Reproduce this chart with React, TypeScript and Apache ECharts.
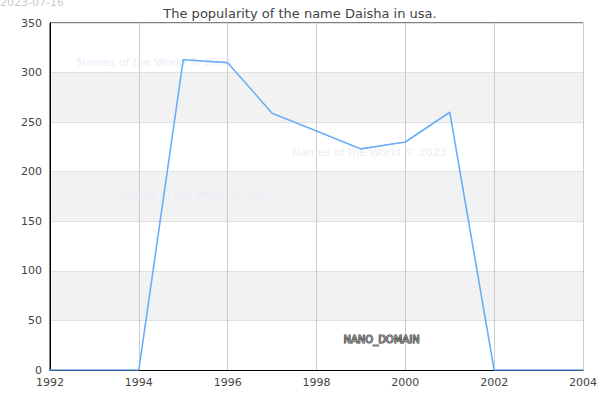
import { useEffect, useRef } from 'react'
import * as echarts from 'echarts'

const years = [1992, 1993, 1994, 1995, 1996, 1997, 1998, 1999, 2000, 2001, 2002, 2003, 2004]
const counts = [0, 0, 0, 313, 310, 259, 241, 223, 230, 260, 0, 0, 0]
const watermarks = [
  { left: 77, top: 57 },
  { left: 292, top: 147 },
  { left: 118, top: 189 },
]

export default function App() {
  const ref = useRef<HTMLDivElement>(null)

  useEffect(() => {
    document.body.style.margin = '0'
    if (!ref.current) return
    const chart = echarts.init(ref.current, undefined, { renderer: 'svg' })
    const font = 'DejaVu Sans'
    chart.setOption({
      animation: false,
      backgroundColor: '#fff',
      textStyle: { fontFamily: font },
      title: {
        text: 'The popularity of the name Daisha in usa.',
        left: 'center', top: 2,
        textStyle: { color: '#444', fontSize: 13, fontWeight: 'normal', fontFamily: font },
      },
      grid: { left: 50, right: 15, top: 23, bottom: 30, show: true, borderColor: '#000', borderWidth: 1, backgroundColor: 'transparent' },
      xAxis: {
        type: 'value', min: 1992, max: 2004, interval: 2,
        axisLine: { lineStyle: { color: '#000' } },
        axisTick: { show: false },
        axisLabel: { color: '#444', fontSize: 11, margin: 7, fontFamily: font, formatter: (v: number) => String(v) },
        splitLine: { show: true, lineStyle: { color: '#ccc' } },
      },
      yAxis: {
        type: 'value', min: 0, max: 350, interval: 50,
        axisLine: { show: true, lineStyle: { color: '#000' } },
        axisTick: { show: false },
        axisLabel: { color: '#444', fontSize: 11, margin: 8, fontFamily: font },
        splitLine: { lineStyle: { color: '#e0e0e0' } },
        splitArea: { show: true, areaStyle: { color: ['#fff', '#f2f2f2'] } },
      },
      graphic: [
        { type: 'text', left: 0, top: -3, style: { text: '2023-07-16', fill: '#ccc', font: `11px "${font}"` } },
        ...watermarks.map((w) => ({
          type: 'text', left: w.left, top: w.top, z: 1,
          style: { text: 'Names of the World © 2023', fill: '#ececf8', font: `11px "${font}"` },
        })),
        {
          type: 'text', left: 343, top: 334, z: 10,
          style: { text: 'NANO_DOMAIN', fill: '#999', stroke: '#333', lineWidth: 1, font: `10px "${font}"` },
        },
      ],
      series: [
        {
          type: 'line',
          data: years.map((y, i) => [y, counts[i]]),
          symbol: 'none',
          lineStyle: { color: '#6aaef5', width: 1.6 },
          z: 3,
        },
      ],
    })
    return () => chart.dispose()
  }, [])

  return <div ref={ref} style={{ width: 600, height: 400 }} />
}
